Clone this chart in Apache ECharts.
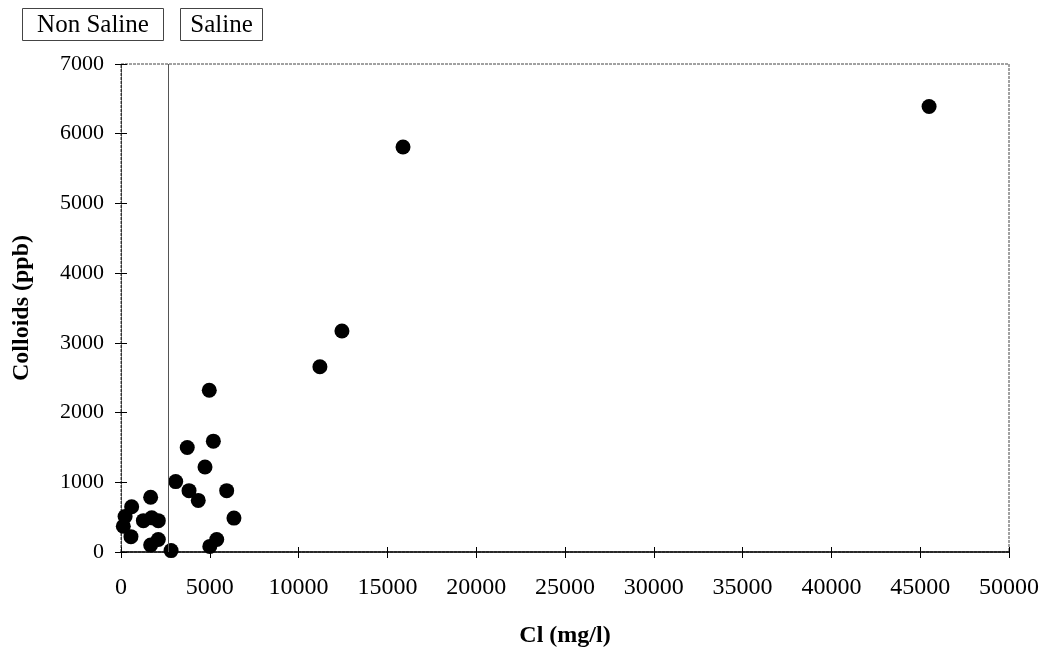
<!DOCTYPE html>
<html><head><meta charset="utf-8">
<script src="https://cdn.jsdelivr.net/npm/echarts@6/dist/echarts.min.js"></script>
<style>html,body{margin:0;padding:0;background:#fff}#c{width:1042px;height:653px}</style>
</head><body><div id="c"></div>
<script>
const clValues = [4970, 5200, 3730, 4730, 3080, 3830, 4350, 5950, 6360, 1670, 600, 230, 130, 560, 1260, 1730, 2100, 1670, 2100, 2820, 5000, 5390, 11200, 12440, 15880, 45500];
const colloidValues = [2320, 1590, 1500, 1220, 1010, 880, 740, 880, 486, 786, 650, 510, 370, 220, 450, 490, 450, 100, 180, 20, 80, 180, 2657, 3170, 5810, 6390];
const salineBoundary = 2650;
const xTicks = [0, 5000, 10000, 15000, 20000, 25000, 30000, 35000, 40000, 45000, 50000];
const yTicks = [0, 1000, 2000, 3000, 4000, 5000, 6000, 7000];
const xTitle = 'Cl (mg/l)';
const yTitle = 'Colloids (ppb)';
const zoneLabels = ['Non Saline', 'Saline'];

const points = clValues.map((v, i) => [v, colloidValues[i]]);
const font = 'Liberation Serif, Times New Roman, serif';
const chart = echarts.init(document.getElementById('c'));
const grid = {left: 121, right: 33, top: 64, bottom: 99, show: true, borderColor: '#444', borderWidth: 1, borderType: [3, 1]};
const xBase = {type: 'value', min: 0, max: 50000, interval: 5000, splitLine: {show: false}};
const yBase = {type: 'value', min: 0, max: 7000, interval: 1000, splitLine: {show: false}};
function zoneBox(x, w, text) {
  return {type: 'group', left: x, top: 8, children: [
    {type: 'rect', shape: {x: 0, y: 0, width: w, height: 32}, style: {fill: '#fff', stroke: '#444', lineWidth: 1}},
    {type: 'text', x: w / 2, y: 17, style: {text: text, font: '25px ' + font, fill: '#000', align: 'center', verticalAlign: 'middle'}}
  ]};
}
chart.setOption({
  animation: false,
  backgroundColor: '#fff',
  grid: grid,
  xAxis: [
    Object.assign({}, xBase, {
      name: xTitle, nameLocation: 'middle', nameGap: 72,
      nameTextStyle: {fontFamily: font, fontSize: 24, fontWeight: 'bold', color: '#000'},
      axisLine: {lineStyle: {color: '#000', width: 1.5}},
      axisTick: {length: 6, lineStyle: {color: '#000'}},
      axisLabel: {fontFamily: font, fontSize: 24, color: '#000', margin: 24,
        formatter: v => xTicks.includes(v) ? String(v) : ''}
    }),
    Object.assign({}, xBase, {
      position: 'bottom', axisLine: {show: false},
      axisTick: {inside: true, length: 5, lineStyle: {color: '#000'}},
      axisLabel: {show: false}
    })
  ],
  yAxis: [
    Object.assign({}, yBase, {
      name: yTitle, nameLocation: 'middle', nameGap: 87, nameRotate: 90,
      nameTextStyle: {fontFamily: font, fontSize: 24, fontWeight: 'bold', color: '#000'},
      axisLine: {lineStyle: {color: '#333', width: 1, type: [3, 1]}},
      axisTick: {length: 6, lineStyle: {color: '#000'}},
      axisLabel: {fontFamily: font, fontSize: 22, color: '#000', margin: 17,
        formatter: v => yTicks.includes(v) ? String(v) : ''}
    }),
    Object.assign({}, yBase, {
      position: 'left', axisLine: {show: false},
      axisTick: {inside: true, length: 6, lineStyle: {color: '#000'}},
      axisLabel: {show: false}
    })
  ],
  series: [{
    type: 'scatter',
    data: points,
    symbol: 'circle',
    symbolSize: 15,
    itemStyle: {color: '#000', opacity: 1},
    markLine: {
      symbol: 'none', silent: true,
      label: {show: false},
      lineStyle: {color: '#555', width: 1, type: 'solid'},
      data: [{xAxis: salineBoundary}]
    }
  }],
  graphic: [zoneBox(22, 141, zoneLabels[0]), zoneBox(180, 82, zoneLabels[1])]
});
</script></body></html>
